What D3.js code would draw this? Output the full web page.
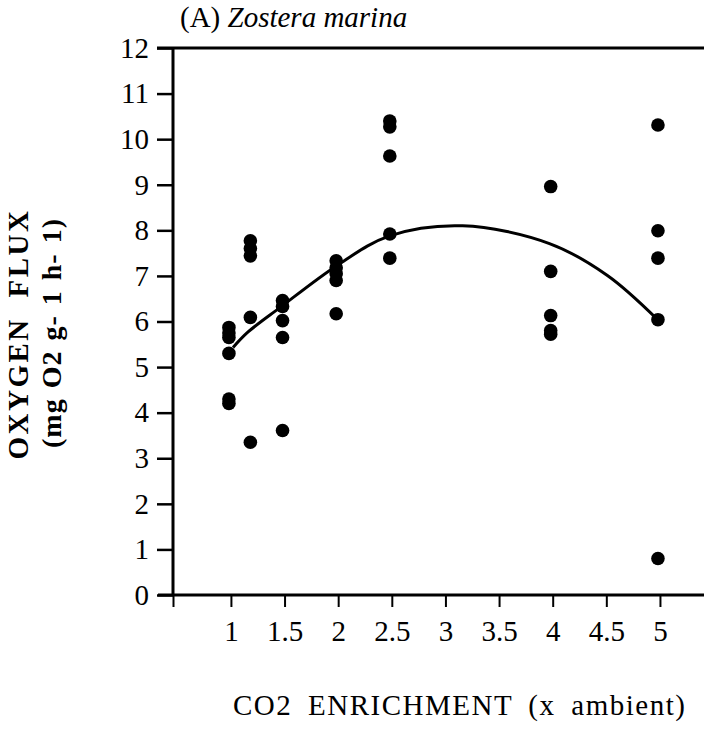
<!DOCTYPE html>
<html>
<head>
<meta charset="utf-8">
<script src="https://cdn.jsdelivr.net/npm/d3@7"></script>
<style>
  body { margin: 0; background: #fff; }
  svg text { font-family: "Liberation Serif", "Times New Roman", serif; }
</style>
</head>
<body>
<svg id="chart"></svg>
<script>
// x tick labels and y tick labels
const xTicks = [1, 1.5, 2, 2.5, 3, 3.5, 4, 4.5, 5]
const yTicks = [0, 1, 2, 3, 4, 5, 6, 7, 8, 9, 10, 11, 12]

// CO2 enrichment levels where samples were taken
const enrichment = [1, 1.2, 1.5, 2, 2.5, 4, 5]
// oxygen flux readings at each level (same order as enrichment)
const fluxValues = [
  [5.87, 5.75, 5.65, 5.3, 4.3, 4.2],
  [7.77, 7.6, 7.44, 6.09, 3.35],
  [6.46, 6.33, 6.02, 5.65, 3.61],
  [7.33, 7.18, 7.05, 6.9, 6.17],
  [10.4, 10.27, 9.63, 7.92, 7.39],
  [8.96, 7.1, 6.13, 5.8, 5.72],
  [10.31, 7.99, 7.39, 6.04, 0.8]
]

// fitted curve
const curveX = [1.02, 1.16, 1.46, 1.99, 2.48, 3.16, 3.97, 4.51, 4.97]
const curveY = [5.43, 5.77, 6.31, 7.23, 7.88, 8.10, 7.71, 7.01, 6.06]

const W = 704, H = 731
const serif = "'Liberation Serif', 'Times New Roman', serif"
let svg = d3.select("#chart").attr("width", W).attr("height", H)

let x = d3.scaleLinear().domain([0.46, 5.42]).range([173, 705])
let y = d3.scaleLinear().domain([0, 12]).range([595, 48])

// Y axis
let yAxis = d3.axisLeft(y).tickValues(yTicks).tickSize(16).tickPadding(8).tickSizeOuter(0)
let gy = svg.append("g").attr("transform", "translate(" + x.range()[0] + ",0)").call(yAxis)
  .attr("font-family", serif).attr("font-size", 29)
gy.select(".domain").remove()
gy.selectAll(".tick line").attr("stroke", "#000").attr("stroke-width", 2.5)
gy.selectAll(".tick text").attr("fill", "#000")

// X axis, first tick at the origin has no label
let x0 = x.domain()[0]
let xAxis = d3.axisBottom(x).tickValues([x0].concat(xTicks)).tickSize(12).tickPadding(13)
  .tickFormat(function (d) { return d === x0 ? "" : d })
let gx = svg.append("g").attr("transform", "translate(0," + y(0) + ")").call(xAxis)
  .attr("font-family", serif).attr("font-size", 29)
gx.select(".domain").remove()
gx.selectAll(".tick line").attr("stroke", "#000").attr("stroke-width", 2)
gx.selectAll(".tick text").attr("fill", "#000")

// frame lines: y axis, x axis and top line at 12
svg.append("line").attr("x1", x.range()[0]).attr("x2", x.range()[0])
  .attr("y1", y(12)).attr("y2", y(0)).attr("stroke", "#000").attr("stroke-width", 3)
svg.append("line").attr("x1", x.range()[0] - 15).attr("x2", W)
  .attr("y1", y(0)).attr("y2", y(0)).attr("stroke", "#000").attr("stroke-width", 3)
svg.append("line").attr("x1", x.range()[0] - 16).attr("x2", W)
  .attr("y1", y(12)).attr("y2", y(12)).attr("stroke", "#000").attr("stroke-width", 3)

// fitted curve
let curvePts = curveX.map(function (d, i) { return [d, curveY[i]] })
svg.append("path")
  .datum(curvePts)
  .attr("fill", "none")
  .attr("stroke", "#000")
  .attr("stroke-width", 3)
  .attr("d", d3.line()
    .x(function (d) { return x(d[0]) })
    .y(function (d) { return y(d[1]) })
    .curve(d3.curveCatmullRom.alpha(0.5)))

// data points
let pts = []
enrichment.forEach(function (e, i) {
  fluxValues[i].forEach(function (v) { pts.push([e, v]) })
})
svg.append("g").selectAll("circle")
  .data(pts)
  .enter().append("circle")
  .attr("cx", function (d) { return x(d[0]) - 2 })
  .attr("cy", function (d) { return y(d[1]) })
  .attr("r", 6.8)
  .attr("fill", "#000")

// title
let title = svg.append("text").attr("x", 180).attr("y", 27).style("font-size", "29px").attr("fill", "#000")
title.append("tspan").text("(A) ")
title.append("tspan").style("font-style", "italic").text("Zostera marina")

// x axis title
svg.append("text")
  .attr("x", 233).attr("y", 715)
  .style("font-size", "29px")
  .style("letter-spacing", "1.5px")
  .style("word-spacing", "7px")
  .attr("fill", "#000")
  .text("CO2 ENRICHMENT (x ambient)")

// y axis title, two lines
svg.append("text")
  .attr("transform", "translate(28,334) rotate(-90)")
  .attr("text-anchor", "middle")
  .style("font-size", "29px").style("font-weight", "bold")
  .style("letter-spacing", "2.5px").style("word-spacing", "10px")
  .attr("fill", "#000")
  .text("OXYGEN FLUX")
svg.append("text")
  .attr("transform", "translate(61,333) rotate(-90)")
  .attr("text-anchor", "middle")
  .style("font-size", "28px").style("font-weight", "bold")
  .style("letter-spacing", "1px").style("word-spacing", "2px")
  .attr("fill", "#000")
  .text("(mg O2 g- 1 h- 1)")
</script>
</body>
</html>
